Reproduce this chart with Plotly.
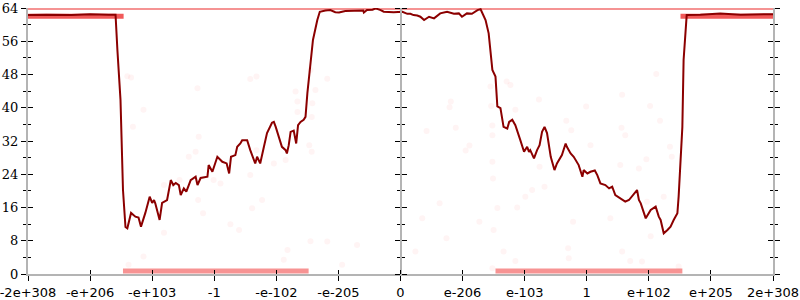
import plotly.graph_objects as go

# ---- data ----
tick_pos = [-6, -5, -4, -3, -2, -1, 0, 1, 2, 3, 4, 5, 6]
tick_text = ["-2e+308", "-e+206", "-e+103", "-1", "-e-102", "-e-205", "0",
             "e-206", "e-103", "1", "e+102", "e+205", "2e+308"]

line_x = [-6.0, -5.7, -5.3, -5.0, -4.7, -4.59, -4.56, -4.51, -4.47, -4.43, -4.40, -4.34, -4.27,
          -4.22, -4.18, -4.11, -4.04, -4.00, -3.97, -3.95, -3.88, -3.84, -3.76, -3.70, -3.66,
          -3.62, -3.57, -3.54, -3.49, -3.45, -3.41, -3.38, -3.30, -3.27, -3.22, -3.11, -3.09,
          -3.03, -2.95, -2.87, -2.80, -2.76, -2.73, -2.66, -2.63, -2.58, -2.55, -2.47, -2.42,
          -2.34, -2.31, -2.26, -2.20, -2.15, -2.07, -2.04, -2.01, -1.96, -1.91, -1.85, -1.83,
          -1.80, -1.77, -1.72, -1.69, -1.68, -1.65, -1.61, -1.56, -1.53, -1.50, -1.45, -1.41,
          -1.34, -1.30, -1.21, -1.13, -1.05, -0.99, -0.89, -0.72, -0.60, -0.59, -0.54, -0.45,
          -0.40, -0.32, -0.27, -0.11, -0.03, 0.03, 0.11, 0.16, 0.21, 0.27, 0.32, 0.38, 0.46,
          0.54, 0.64, 0.75, 0.86, 0.94, 0.99, 1.07, 1.15, 1.24, 1.29, 1.37, 1.42, 1.48, 1.53,
          1.56, 1.61, 1.66, 1.72, 1.75, 1.80, 1.85, 1.93, 1.99, 2.04, 2.07, 2.09, 2.15, 2.20,
          2.24, 2.28, 2.32, 2.36, 2.42, 2.48, 2.52, 2.60, 2.66, 2.68, 2.74, 2.79, 2.87, 2.93,
          2.95, 3.01, 3.06, 3.13, 3.17, 3.22, 3.30, 3.36, 3.41, 3.46, 3.54, 3.62, 3.68, 3.76,
          3.81, 3.84, 3.87, 3.95, 4.03, 4.11, 4.16, 4.19, 4.24, 4.30, 4.35, 4.40, 4.46, 4.48,
          4.51, 4.54, 4.56, 4.61, 4.83, 5.15, 5.48, 6.0]
line_y = [62.3, 62.4, 62.3, 62.5, 62.4, 62.4, 53.9, 41.9, 20.2, 11.3, 11.0, 14.7, 13.8,
          13.6, 11.4, 14.7, 18.6, 17.1, 17.8, 17.0, 13.0, 17.1, 17.8, 22.6, 21.4,
          21.9, 21.4, 19.0, 20.6, 19.8, 21.4, 22.6, 23.4, 21.4, 23.1, 23.4, 26.2,
          24.6, 28.2, 27.0, 26.6, 24.2, 28.2, 28.6, 30.6, 31.4, 32.2, 32.2, 29.8,
          26.6, 28.2, 26.6, 30.6, 33.9, 36.4, 36.6, 35.4, 33.0, 30.6, 29.8, 29.0,
          31.0, 34.2, 34.5, 31.9, 31.4, 35.8, 36.6, 37.1, 37.8, 43.5, 51.5, 56.3,
          61.1, 63.1, 63.4, 63.5, 63.0, 62.9, 63.3, 63.4, 63.4, 62.9, 63.5, 63.6,
          63.9, 63.5, 63.1, 63.0, 63.1, 63.1, 62.6, 62.6, 62.3, 62.2, 61.9, 61.1, 61.9,
          61.5, 62.7, 63.1, 62.6, 62.7, 61.9, 62.7, 62.6, 63.5, 63.7, 61.1, 57.9, 49.1, 47.5,
          40.3, 39.9, 35.4, 35.0, 36.6, 37.1, 35.8, 32.2, 29.4, 30.6, 29.4, 29.8, 27.8, 29.8,
          31.0, 34.2, 35.4, 33.9, 28.2, 25.0, 26.6, 28.6, 31.4, 30.6, 29.0, 28.2, 26.2, 23.4,
          25.0, 24.2, 24.6, 24.9, 23.8, 21.8, 21.4, 20.6, 21.0, 19.0, 18.2, 17.4, 17.8, 19.4,
          20.2, 17.8, 17.0, 13.4, 15.4, 16.2, 13.8, 13.0, 9.8, 10.6, 11.4, 13.0, 14.6, 18.6,
          25.8, 35.4, 51.5, 62.3, 62.4, 62.7, 62.4, 62.5]

# dense sample bands (start x, end x, level)
band_top = ([-6.0, 6.0], [63.85, 63.85])
band_mid_left = ([-6.0, -4.46], [62.0, 62.0])
band_mid_right = ([4.51, 6.0], [62.0, 62.0])
band_low_left = ([-4.47, -1.48], [0.7, 0.7])
band_low_right = ([1.53, 4.54], [0.7, 0.7])

# faint scattered samples
dots_x = [-4.40, -4.34, -3.27, -4.14, -4.31, -3.25, -3.41, -3.30, -3.81, -3.56, -3.26, -3.18,
          -3.81, -2.60, -2.74, -2.39, -2.23, -2.42, -2.90, -3.01, -2.04, -2.32, -1.85, -1.66,
          -1.69, -2.42, -2.32, -1.66, -1.45, -1.18, -1.37, -1.42, -1.43, -1.47, -1.43,
          -4.14, -4.38, -1.82, -1.45, -1.18, -0.70, -0.94, -1.88,
          0.81, 0.79, 0.89, 0.42, 1.11, 1.05, 0.63, 0.35, 1.27, 0.74, 1.45, 1.71, 1.77, 1.46,
          1.48, 1.48, 1.48, 1.49, 1.56, 1.50, 1.85, 2.23, 2.67, 2.75, 3.06, 2.24, 2.32, 2.12,
          2.01, 1.88, 2.78, 2.70, 2.99, 3.57, 3.56, 3.62, 3.54, 3.38, 3.84, 3.96, 3.97, 4.03,
          4.12, 4.02, 4.18, 4.34, 4.24, 4.37, 0.24, 1.66, 1.85, 2.71, 3.57, 3.70, 3.89, 4.48, 1.48]
dots_y = [47.6, 47.3, 44.7, 39.5, 35.4, 33.0, 28.2, 29.4, 21.4, 22.6, 17.8, 14.6,
          9.9, 10.6, 12.0, 15.8, 17.8, 23.8, 21.8, 22.6, 26.6, 29.8, 27.4, 39.0,
          43.9, 46.9, 47.5, 41.5, 49.1, 47.0, 44.3, 41.1, 37.8, 31.0, 29.4,
          4.2, 2.2, 5.8, 7.9, 7.8, 7.0, 2.2, 3.4,
          41.5, 40.1, 35.2, 34.4, 30.9, 29.7, 17.0, 13.4, 12.6, 8.6, 45.1, 46.3, 45.5, 40.4,
          35.7, 33.4, 27.0, 23.0, 15.9, 10.6, 39.5, 42.0, 36.9, 34.6, 31.0, 25.8, 21.0, 20.2,
          18.6, 16.0, 12.6, 6.2, 40.3, 43.1, 35.2, 33.4, 26.2, 13.4, 25.4, 27.6, 17.4, 9.1,
          48.1, 40.4, 36.9, 30.6, 18.6, 28.2, 5.4, 5.4, 3.1, 3.8, 5.4, 3.1, 3.0, 1.8, 1.4]

# ---- figure ----
fig = go.Figure()

fig.add_trace(go.Scatter(x=dots_x, y=dots_y, mode="markers",
                         marker=dict(size=6, color="rgba(255,40,40,0.05)", line=dict(width=0)),
                         hoverinfo="skip", showlegend=False, cliponaxis=False))

for bx, by, w, col in [
    (band_top[0], band_top[1], 3, "rgba(235,40,40,0.5)"),
    (band_mid_left[0], band_mid_left[1], 5, "rgba(235,20,20,0.7)"),
    (band_mid_right[0], band_mid_right[1], 5, "rgba(235,20,20,0.7)"),
    (band_low_left[0], band_low_left[1], 5, "rgba(240,40,40,0.5)"),
    (band_low_right[0], band_low_right[1], 5, "rgba(240,40,40,0.5)"),
]:
    fig.add_trace(go.Scatter(x=bx, y=by, mode="lines", line=dict(width=w, color=col),
                             hoverinfo="skip", showlegend=False, cliponaxis=False))

fig.add_trace(go.Scatter(x=line_x, y=line_y, mode="lines",
                         line=dict(width=2, color="#8b0000"),
                         showlegend=False, cliponaxis=False))

# dummy traces so overlay axes are drawn
for ya in ["y2", "y3", "y4"]:
    fig.add_trace(go.Scatter(x=[None], y=[None], xaxis="x", yaxis=ya, showlegend=False))
fig.add_trace(go.Scatter(x=[None], y=[None], xaxis="x2", yaxis="y", showlegend=False))

AX_GRAY = "#b4b4b4"
yticks = list(range(0, 65, 8))
common_y = dict(range=[0, 64], showgrid=False, zeroline=False, tickmode="array",
                tickvals=yticks, tickcolor="black", tickwidth=1, automargin=False)
minor_out = dict(tickmode="array", tickvals=[4, 12, 20, 28, 36, 44, 52, 60],
                 ticklen=3, tickcolor="black", tickwidth=1, showgrid=False)

fig.update_layout(
    width=800, height=300,
    margin=dict(l=28, r=27, t=8, b=26),
    paper_bgcolor="white", plot_bgcolor="white",
    xaxis=dict(range=[-6, 6], showgrid=False, zeroline=False, tickmode="array",
               tickvals=tick_pos, ticktext=tick_text, ticks="outside", ticklen=5,
               tickcolor="black", tickwidth=1, showline=True, linecolor=AX_GRAY, linewidth=2,
               automargin=False, ticklabeloverflow="allow",
               tickfont=dict(family="DejaVu Sans", size=13, color="black")),
    xaxis2=dict(range=[-6, 6], overlaying="x", anchor="y", showgrid=False, zeroline=False,
                tickmode="array", tickvals=tick_pos, ticks="inside", ticklen=4,
                tickcolor="black", tickwidth=1, showticklabels=False, showline=False,
                automargin=False),
    yaxis=dict(**common_y, ticks="outside", ticklen=5, showline=True, linecolor=AX_GRAY,
               linewidth=2, mirror="ticks", minor=dict(ticks="outside", **minor_out),
               ticklabeloverflow="allow",
               tickfont=dict(family="DejaVu Serif", size=13, color="black")),
    yaxis2=dict(**common_y, overlaying="y", anchor="x", ticks="inside", ticklen=5,
                showline=False, mirror="ticks", showticklabels=False,
                minor=dict(ticks="inside", **minor_out)),
    yaxis3=dict(**common_y, overlaying="y", anchor="free", position=0.5, ticks="outside",
                ticklen=5, showline=True, linecolor=AX_GRAY, linewidth=2, showticklabels=False,
                minor=dict(ticks="outside", **minor_out)),
    yaxis4=dict(**common_y, overlaying="y", anchor="free", position=0.5, side="right",
                ticks="outside", ticklen=5, showline=False, showticklabels=False,
                minor=dict(ticks="outside", **minor_out)),
)

fig.write_html("out.html")
